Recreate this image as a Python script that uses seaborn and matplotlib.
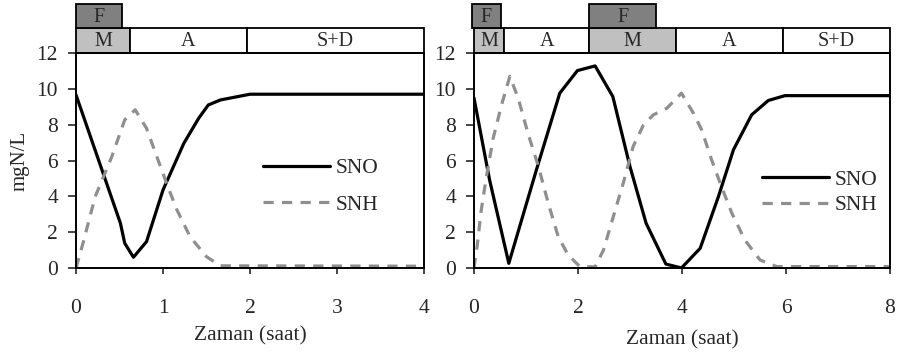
import matplotlib
matplotlib.use("Agg")
import matplotlib.pyplot as plt
from matplotlib.patches import Rectangle
import seaborn as sns

# ---- data: nitrate (SNO) and ammonium (SNH) over one cycle ----
# 4-hour cycle
t4_sno = [0, 0.51, 0.56, 0.66, 0.81, 1.0, 1.24, 1.41, 1.52, 1.66, 2.0, 4.0]
sno4 = [9.66, 2.5, 1.38, 0.6, 1.47, 4.36, 6.97, 8.36, 9.1, 9.38, 9.7, 9.7]
t4_snh = [0, 0.08, 0.22, 0.41, 0.56, 0.68, 0.81, 0.93, 1.04, 1.16, 1.31, 1.5, 1.66, 4.0]
snh4 = [0.0, 1.38, 3.98, 6.2, 8.27, 8.83, 7.8, 6.2, 4.73, 3.24, 1.75, 0.63, 0.12, 0.1]

# 8-hour cycle
t8_sno = [0, 0.30, 0.67, 1.2, 1.65, 1.99, 2.33, 2.67, 3.0, 3.31, 3.69, 3.99,
          4.35, 4.7, 4.99, 5.34, 5.66, 5.98, 8.0]
sno8 = [9.5, 4.92, 0.26, 5.47, 9.76, 11.02, 11.28, 9.57, 5.66, 2.5, 0.22, 0.0,
        1.1, 3.98, 6.6, 8.55, 9.35, 9.62, 9.62]
t8_snh = [0, 0.06, 0.14, 0.24, 0.37, 0.53, 0.69, 0.85, 1.04, 1.24, 1.43, 1.62,
          1.81, 2.04, 2.33, 2.49, 2.68, 2.87, 3.06, 3.26, 3.45, 3.71, 3.99, 4.22,
          4.38, 4.57, 4.76, 4.96, 5.21, 5.5, 5.82, 8.0]
snh8 = [0.0, 1.19, 3.24, 5.1, 7.25, 9.1, 10.7, 9.48, 7.5, 5.66, 3.6, 1.75,
        0.73, 0.07, 0.07, 1.0, 2.87, 4.73, 6.78, 7.99, 8.55, 8.92, 9.76, 8.64,
        7.7, 6.03, 4.54, 3.05, 1.56, 0.45, 0.08, 0.08]

# process phases (start, end, name) and feeding periods (start, end)
phases4 = [(0, 0.62, "M"), (0.62, 1.96, "A"), (1.96, 4.0, "S+D")]
feed4 = [(0, 0.53)]
phases8 = [(0, 0.58, "M"), (0.58, 2.22, "A"), (2.22, 3.88, "M"),
           (3.88, 5.94, "A"), (5.94, 8.0, "S+D")]
feed8 = [(-0.04, 0.52), (2.22, 3.5)]

yticks = [0, 2, 4, 6, 8, 10, 12]
xticks4 = [0, 1, 2, 3, 4]
xticks8 = [0, 2, 4, 6, 8]

sns.set_style("ticks")
plt.rcParams["font.family"] = ["Liberation Serif", "DejaVu Serif"]
plt.rcParams["axes.linewidth"] = 1.4

fig = plt.figure(figsize=(9.04, 3.56), dpi=100)
ax1 = fig.add_axes([0.0841, 0.2472, 0.3850, 0.6039])
ax2 = fig.add_axes([0.5243, 0.2472, 0.4602, 0.6039])

SNH_GREY = "#8f8f8f"
FILL = {"M": "#c0c0c0", "A": "white", "S+D": "white"}
ROW1 = (1.0, 0.116)
ROW2 = (1.116, 0.112)


def draw_panel(ax, ts, sno, th, snh, xmax, xticks, phases, feeds,
               leg_x, leg_y, leg_space, xlabpad):
    sns.lineplot(x=ts, y=sno, ax=ax, color="black", linewidth=2.3,
                 estimator=None, sort=False, label="SNO")
    sns.lineplot(x=th, y=snh, ax=ax, color=SNH_GREY, linewidth=2.3,
                 estimator=None, sort=False, label="SNH",
                 linestyle=(0, (3.2, 2.6)))
    ax.set_xlim(0, xmax)
    ax.set_ylim(0, 12)
    ax.set_xticks(xticks)
    ax.set_yticks(yticks)
    ax.tick_params(axis="y", direction="out", length=6, width=1.2, pad=7,
                   labelsize=15.5)
    ax.tick_params(axis="x", direction="out", length=4, width=1.2, pad=18,
                   labelsize=15.5)
    for s in ax.spines.values():
        s.set_visible(True)
        s.set_color("black")
        s.set_linewidth(1.4)
    ax.set_xlabel("Zaman (saat)", fontsize=15.5, labelpad=xlabpad)

    tr = ax.get_xaxis_transform()
    for x0, x1, name in phases:
        ax.add_patch(Rectangle((x0, ROW1[0]), x1 - x0, ROW1[1], transform=tr,
                               facecolor=FILL[name], edgecolor="black",
                               linewidth=1.3, clip_on=False))
        ax.text((x0 + x1) / 2, ROW1[0] + ROW1[1] / 2 - 0.005, name,
                transform=tr, ha="center", va="center", fontsize=14.5)
    for x0, x1 in feeds:
        ax.add_patch(Rectangle((x0, ROW2[0]), x1 - x0, ROW2[1], transform=tr,
                               facecolor="#808080", edgecolor="black",
                               linewidth=1.3, clip_on=False))
        ax.text((x0 + x1) / 2, ROW2[0] + ROW2[1] / 2 - 0.005, "F",
                transform=tr, ha="center", va="center", fontsize=14.5)

    ax.legend(loc="center left", bbox_to_anchor=(leg_x, leg_y),
              frameon=False, fontsize=15.5, handlelength=3.1,
              handletextpad=0.3, borderpad=0, borderaxespad=0,
              labelspacing=leg_space)


draw_panel(ax1, t4_sno, sno4, t4_snh, snh4, 4, xticks4, phases4, feed4,
           0.537, 0.379, 0.78, 6)
draw_panel(ax2, t8_sno, sno8, t8_snh, snh8, 8, xticks8, phases8, feed8,
           0.692, 0.351, 0.25, 9)
ax1.set_ylabel("mgN/L", fontsize=15, labelpad=5)

fig.savefig("out.png", dpi=100)
